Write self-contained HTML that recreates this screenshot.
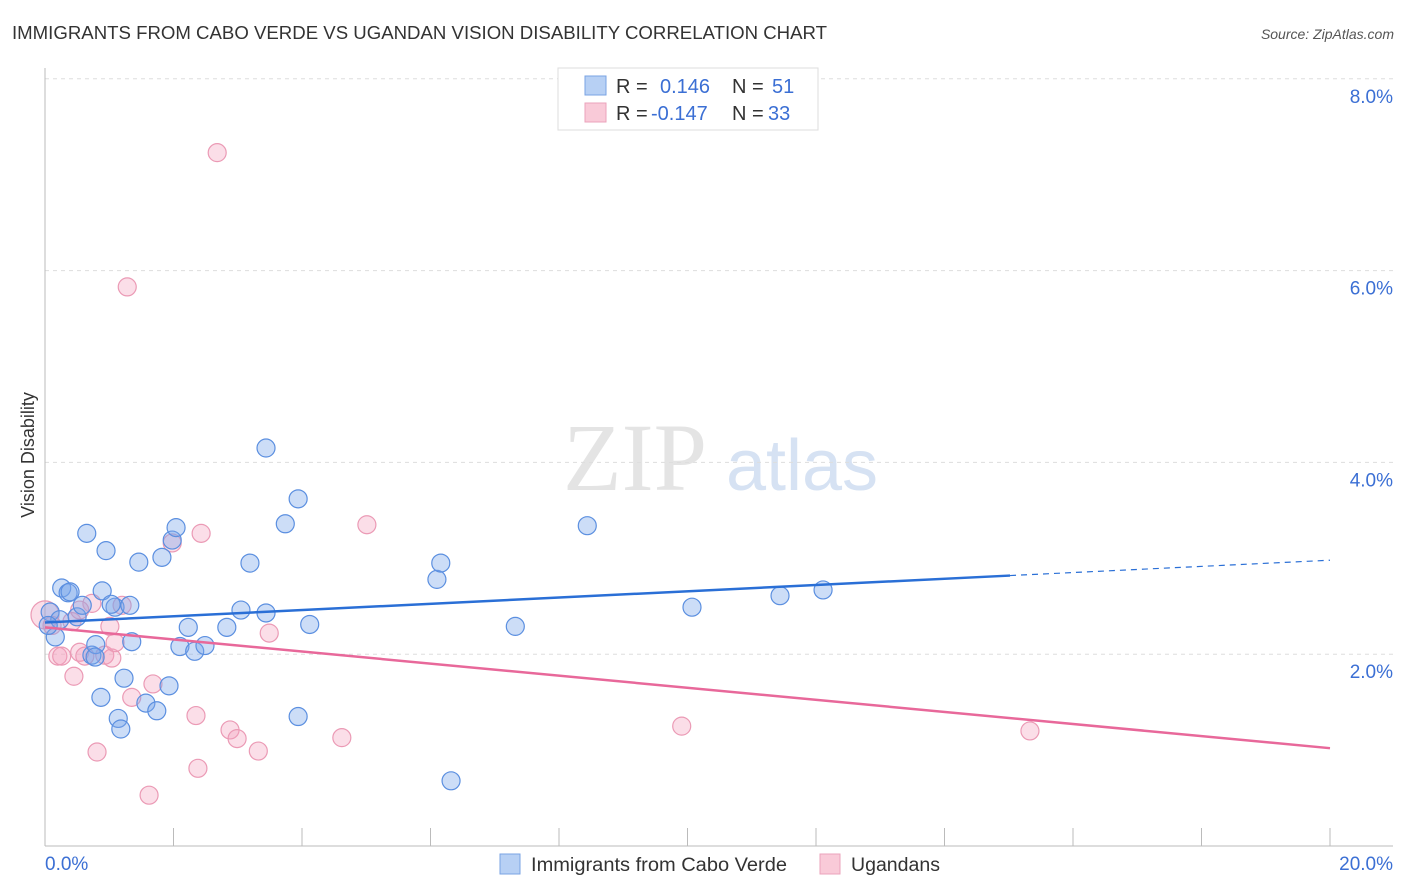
<!DOCTYPE html>
<html><head><meta charset="utf-8"><style>
body{margin:0;background:#fff;font-family:"Liberation Sans",sans-serif;}
svg{display:block}
</style></head><body>
<svg id="chart" width="1406" height="892" viewBox="0 0 1406 892" xmlns="http://www.w3.org/2000/svg">
<text x="12" y="39" font-size="18" fill="#333" textLength="815" lengthAdjust="spacingAndGlyphs">IMMIGRANTS FROM CABO VERDE VS UGANDAN VISION DISABILITY CORRELATION CHART</text>
<text x="1394" y="39" font-size="14" fill="#555" font-style="italic" text-anchor="end">Source: ZipAtlas.com</text>
<g>
<text x="635" y="490" font-size="96" fill="#e4e4e4" font-family="Liberation Serif,serif" text-anchor="middle">ZIP</text>
<text x="802" y="490" font-size="72" fill="#d6e2f3" text-anchor="middle">atlas</text>
</g>
<g id="grid"></g>
<line x1="45" y1="68" x2="45" y2="846" stroke="#bbb"/>
<line x1="45" y1="846" x2="1393" y2="846" stroke="#bbb"/>
<g id="xticks"></g>
<g id="ylabels"></g>
<text x="45" y="870" font-size="19" fill="#3b6fd4">0.0%</text>
<text x="1393" y="870" font-size="19" fill="#3b6fd4" text-anchor="end">20.0%</text>
<text transform="translate(34,455) rotate(-90)" font-size="18" fill="#333" text-anchor="middle">Vision Disability</text>
<g id="pinkpts"></g>
<g id="bluepts"></g>
<g id="lines"></g>
<g>
<rect x="558" y="68" width="260" height="62" fill="#fff" stroke="#ddd"/>
<rect x="585" y="76" width="21" height="19" fill="#b7d0f4" stroke="#7aa3e3"/>
<rect x="585" y="103" width="21" height="19" fill="#f9cad8" stroke="#eba3bb"/>
<text x="616" y="93" font-size="20" fill="#333">R = <tspan fill="#3b6fd4" x="660">0.146</tspan><tspan x="732" fill="#333">N = </tspan><tspan fill="#3b6fd4" x="772">51</tspan></text>
<text x="616" y="120" font-size="20" fill="#333">R = <tspan fill="#3b6fd4" x="651">-0.147</tspan><tspan x="732" fill="#333">N = </tspan><tspan fill="#3b6fd4" x="768">33</tspan></text>
</g>
<g>
<rect x="500" y="854" width="20" height="20" fill="#b7d0f4" stroke="#7aa3e3"/>
<text x="531" y="871" font-size="19" fill="#333" textLength="256" lengthAdjust="spacingAndGlyphs">Immigrants from Cabo Verde</text>
<rect x="820" y="854" width="20" height="20" fill="#f9cad8" stroke="#eba3bb"/>
<text x="851" y="871" font-size="19" fill="#333" textLength="89" lengthAdjust="spacingAndGlyphs">Ugandans</text>
</g>
</svg>
<script>
const blueX=[0.08,0.16,0.26,0.36,0.39,0.50,0.58,0.65,0.73,0.79,0.87,0.89,0.95,1.09,1.14,1.18,1.23,1.32,1.35,1.46,1.57,1.74,1.82,1.93,1.98,2.04,2.10,2.23,2.33,2.49,2.83,3.05,3.19,3.44,3.44,3.74,3.94,3.94,4.12,6.10,6.16,6.32,7.32,8.44,10.07,11.44,12.11,0.78,0.23,0.05,1.03];
const blueY=[2.44,2.18,2.69,2.64,2.65,2.39,2.51,3.26,1.99,2.10,1.55,2.66,3.08,2.49,1.33,1.22,1.75,2.51,2.13,2.96,1.49,1.41,3.01,1.67,3.19,3.32,2.08,2.28,2.03,2.09,2.28,2.46,2.95,4.15,2.43,3.36,1.35,3.62,2.31,2.78,2.95,0.68,2.29,3.34,2.49,2.61,2.67,1.97,2.36,2.30,2.52];
const pinkX=[0.0,0.11,0.20,0.26,0.45,0.42,0.54,0.62,0.73,0.81,0.93,1.01,1.04,1.09,1.20,1.35,1.62,1.68,1.98,2.35,2.38,2.43,2.68,1.28,2.88,2.99,3.32,3.49,4.62,5.01,9.91,15.33,0.54];
const pinkY=[2.41,2.30,1.98,1.98,1.77,2.34,2.02,1.98,2.53,0.98,1.99,2.29,1.96,2.12,2.51,1.55,0.53,1.69,3.16,1.36,0.81,3.26,7.23,5.83,1.21,1.12,0.99,2.22,1.13,3.35,1.25,1.20,2.46];
const blueTrend=[[0,2.33],[15.02,2.82],[20,2.98]];
const pinkTrend=[[0,2.28],[20,1.02]];
const yTicks=[2,4,6,8];
const yTickLabels=["2.0%","4.0%","6.0%","8.0%"];
const xTicks=[2,4,6,8,10,12,14,16,18,20];

const NS="http://www.w3.org/2000/svg";
function sx(v){return 45+v*64.25;}
function sy(v){return 846-v*95.9;}
function mk(tag,attrs,parent){const e=document.createElementNS(NS,tag);for(const k in attrs)e.setAttribute(k,attrs[k]);parent.appendChild(e);return e;}
const grid=document.getElementById('grid'),yl=document.getElementById('ylabels'),xt=document.getElementById('xticks');
yTicks.forEach((t,i)=>{
  const l=mk('line',{x1:45,x2:1393,y1:sy(t),y2:sy(t),stroke:'#ddd','stroke-dasharray':'4,4'},grid);
  
  
  const tx=mk('text',{x:1393,y:sy(t)+24,'font-size':19,fill:'#3b6fd4','text-anchor':'end'},yl);
  tx.textContent=yTickLabels[i];
  
  
});
xTicks.forEach(t=>{
  const l=mk('line',{x1:sx(t),x2:sx(t),y1:828,y2:846,stroke:'#bbb'},xt);
  
  
});
const pp=document.getElementById('pinkpts');
pinkX.forEach((x,i)=>{
  const c=mk('circle',{cx:sx(x),cy:sy(pinkY[i]),r:i===0?14:9,fill:'rgba(244,160,188,0.35)',stroke:'#eb9ab5','stroke-width':1.2},pp);
  
  
});
const bp=document.getElementById('bluepts');
blueX.forEach((x,i)=>{
  const c=mk('circle',{cx:sx(x),cy:sy(blueY[i]),r:9,fill:'rgba(120,165,235,0.38)',stroke:'#5b8fe0','stroke-width':1.2},bp);
  
  
});
const lg=document.getElementById('lines');
const b1=mk('line',{x1:sx(blueTrend[0][0]),y1:sy(blueTrend[0][1]),x2:sx(blueTrend[1][0]),y2:sy(blueTrend[1][1]),stroke:'#2a6fd6','stroke-width':2.5},lg);


const b2=mk('line',{x1:sx(blueTrend[1][0]),y1:sy(blueTrend[1][1]),x2:sx(blueTrend[2][0]),y2:sy(blueTrend[2][1]),stroke:'#2a6fd6','stroke-width':1.2,'stroke-dasharray':'6,5'},lg);


const p1=mk('line',{x1:sx(pinkTrend[0][0]),y1:sy(pinkTrend[0][1]),x2:sx(pinkTrend[1][0]),y2:sy(pinkTrend[1][1]),stroke:'#e8689a','stroke-width':2.5},lg);


</script>
</body></html>
